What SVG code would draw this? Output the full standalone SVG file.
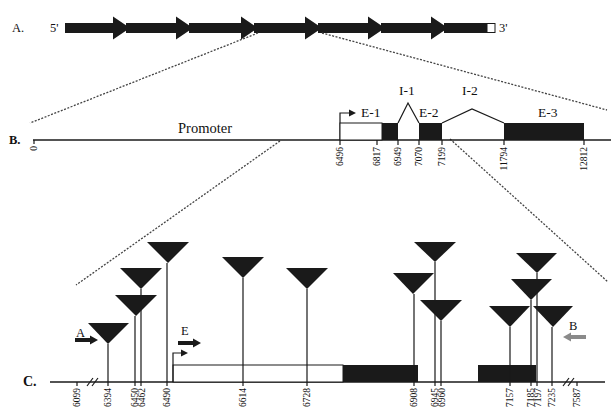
<svg xmlns="http://www.w3.org/2000/svg" width="611" height="414" viewBox="0 0 611 414">
<style>
text{font-family:"Liberation Serif","Times New Roman",serif;fill:#111}
.lbl{font-size:12.5px}
.ex{font-size:13.5px}
.tk{font-size:9.5px}
.ln{stroke:#1a1a1a;stroke-width:1.5;fill:none}
.st{stroke:#1a1a1a;stroke-width:1.2;fill:none}
.dot{stroke:#444;stroke-width:1.3;stroke-dasharray:2 1.5;fill:none}
.blk{fill:#1a1a1a}
.opn{fill:#fff;stroke:#1a1a1a;stroke-width:1}
.tri{fill:#1a1a1a}
</style>
<rect width="611" height="414" fill="#fff"/>

<g id="panelA">
  <text class="lbl" x="12" y="32">A.</text>
  <text class="lbl" x="50" y="32">5'</text>
  <g id="repeats" class="blk">
    <polygon points="65,23 113,23 113,16.5 130,28 113,39.5 113,33 65,33"/>
    <polygon points="126,23 176,23 176,16.5 193,28 176,39.5 176,33 126,33"/>
    <polygon points="189,23 241,23 241,16.5 258,28 241,39.5 241,33 189,33"/>
    <polygon points="254,23 305,23 305,16.5 322,28 305,39.5 305,33 254,33"/>
    <polygon points="318,23 368,23 368,16.5 385,28 368,39.5 368,33 318,33"/>
    <polygon points="381,23 431,23 431,16.5 448,28 431,39.5 431,33 381,33"/>
    <rect x="444" y="23" width="43" height="10"/>
  </g>
  <rect class="opn" x="487" y="23.5" width="8" height="9"/>
  <text class="lbl" x="499" y="32">3'</text>
</g>

<g id="connectors">
  <line class="dot" x1="258" y1="33" x2="30" y2="123"/>
  <line class="dot" x1="322" y1="33" x2="607" y2="110"/>
  <line class="dot" x1="280" y1="141" x2="76" y2="285"/>
  <line class="dot" x1="450" y1="139" x2="608" y2="282"/>
</g>

<g id="panelB">
  <text class="lbl" x="9" y="144" font-weight="bold">B.</text>
  <line class="ln" x1="33" y1="140" x2="611" y2="140"/>
  <line class="st" x1="34" y1="140" x2="34" y2="144"/>
  <text class="tk" transform="translate(34,146) rotate(-90)" text-anchor="end" dy="0.35em">0</text>
  <text x="205" y="133" font-size="14.5" text-anchor="middle">Promoter</text>
  <g id="tss-B">
    <polyline class="st" points="340,140 340,113 350,113"/>
    <polygon class="blk" points="349,109.5 356,113 349,116.5"/>
  </g>
  <rect class="opn" x="340" y="123" width="42" height="17"/>
  <rect class="blk" x="382" y="123" width="16" height="17"/>
  <rect class="blk" x="419" y="123" width="23" height="17"/>
  <rect class="blk" x="504" y="123" width="80" height="17"/>
  <polyline class="st" points="398,123 408,103 419,123"/>
  <polyline class="st" points="442,123 472,109 504,123"/>
  <text class="ex" x="361" y="117">E-1</text>
  <text class="ex" x="399" y="95">I-1</text>
  <text class="ex" x="419" y="117">E-2</text>
  <text class="ex" x="462" y="95">I-2</text>
  <text class="ex" x="538" y="117">E-3</text>
  <g id="ticksB">
    <path class="st" d="M340,140V145M377,140V145M398,140V145M419,140V145M442,140V145M504,140V145M584,140V145"/>
    <text class="tk" transform="translate(340,147) rotate(-90)" text-anchor="end" dy="0.35em">6496</text>
    <text class="tk" transform="translate(377,147) rotate(-90)" text-anchor="end" dy="0.35em">6817</text>
    <text class="tk" transform="translate(398,147) rotate(-90)" text-anchor="end" dy="0.35em">6949</text>
    <text class="tk" transform="translate(419,147) rotate(-90)" text-anchor="end" dy="0.35em">7070</text>
    <text class="tk" transform="translate(442,147) rotate(-90)" text-anchor="end" dy="0.35em">7199</text>
    <text class="tk" transform="translate(504,147) rotate(-90)" text-anchor="end" dy="0.35em">11794</text>
    <text class="tk" transform="translate(584,147) rotate(-90)" text-anchor="end" dy="0.35em">12812</text>
  </g>
</g>

<g id="panelC">
  <text x="23" y="386" font-size="14" font-weight="bold">C.</text>
  <line class="ln" x1="50" y1="382" x2="605" y2="382"/>
  <path class="st" d="M87,386L93,378M92,386L98,378M563,386L569,378M568,386L574,378"/>
  <rect class="opn" x="173" y="365" width="170" height="17"/>
  <rect class="blk" x="343" y="365" width="75" height="17"/>
  <rect class="blk" x="478" y="365" width="58" height="17"/>
  <g id="tss-C">
    <polyline class="st" points="173,382 173,353 182,353"/>
    <polygon class="blk" points="181,349.5 188,353 181,356.5"/>
  </g>
  <g id="stems">
    <path class="st" d="M77,382V386M108,344V386M135,316V386M141,289V386M167,263V386M243,278V386M307,289V386M414,294V386M435,262V386M441,321V386M510,327V386M531,300V386M537,273V386M552,327V386M577,382V386"/>
  </g>
  <g id="insertions" class="tri">
    <polygon points="88,323 129,323 108,344"/>
    <polygon points="115,295 157,295 136,316"/>
    <polygon points="120,268 162,268 141,289"/>
    <polygon points="147,242 189,242 168,263"/>
    <polygon points="222,257 264,257 243,278"/>
    <polygon points="286,268 328,268 307,289"/>
    <polygon points="393,273 434,273 413,294"/>
    <polygon points="414,242 456,242 435,262"/>
    <polygon points="420,300 462,300 441,321"/>
    <polygon points="489,306 530,306 510,327"/>
    <polygon points="511,279 552,279 531,300"/>
    <polygon points="516,253 557,253 537,273"/>
    <polygon points="533,306 573,306 553,327"/>
  </g>
  <g id="primers">
    <text x="76" y="337" font-size="12.5">A</text>
    <polygon class="blk" points="75,338 90,338 90,335.5 98,340 90,344.5 90,342 75,342"/>
    <text x="181" y="335" font-size="12.5">E</text>
    <polygon class="blk" points="178,341 193,341 193,338.5 201,343 193,347.5 193,345 178,345"/>
    <text x="569" y="330" font-size="12.5">B</text>
    <polygon fill="#8a8a8a" points="586,335 571,335 571,332.5 563,337 571,341.5 571,339 586,339"/>
  </g>
  <g id="ticksC">
    <text class="tk" transform="translate(77,388) rotate(-90)" text-anchor="end" dy="0.35em">6099</text>
    <text class="tk" transform="translate(108,388) rotate(-90)" text-anchor="end" dy="0.35em">6394</text>
    <text class="tk" transform="translate(134.5,388) rotate(-90)" text-anchor="end" dy="0.35em">6450</text>
    <text class="tk" transform="translate(141.5,388) rotate(-90)" text-anchor="end" dy="0.35em">6462</text>
    <text class="tk" transform="translate(167,388) rotate(-90)" text-anchor="end" dy="0.35em">6490</text>
    <text class="tk" transform="translate(243,388) rotate(-90)" text-anchor="end" dy="0.35em">6614</text>
    <text class="tk" transform="translate(307,388) rotate(-90)" text-anchor="end" dy="0.35em">6728</text>
    <text class="tk" transform="translate(414,388) rotate(-90)" text-anchor="end" dy="0.35em">6908</text>
    <text class="tk" transform="translate(434.5,388) rotate(-90)" text-anchor="end" dy="0.35em">6945</text>
    <text class="tk" transform="translate(441.5,388) rotate(-90)" text-anchor="end" dy="0.35em">6960</text>
    <text class="tk" transform="translate(510,388) rotate(-90)" text-anchor="end" dy="0.35em">7157</text>
    <text class="tk" transform="translate(530.5,388) rotate(-90)" text-anchor="end" dy="0.35em">7185</text>
    <text class="tk" transform="translate(537.5,388) rotate(-90)" text-anchor="end" dy="0.35em">7197</text>
    <text class="tk" transform="translate(552,388) rotate(-90)" text-anchor="end" dy="0.35em">7235</text>
    <text class="tk" transform="translate(577,388) rotate(-90)" text-anchor="end" dy="0.35em">7587</text>
  </g>
</g>
</svg>
